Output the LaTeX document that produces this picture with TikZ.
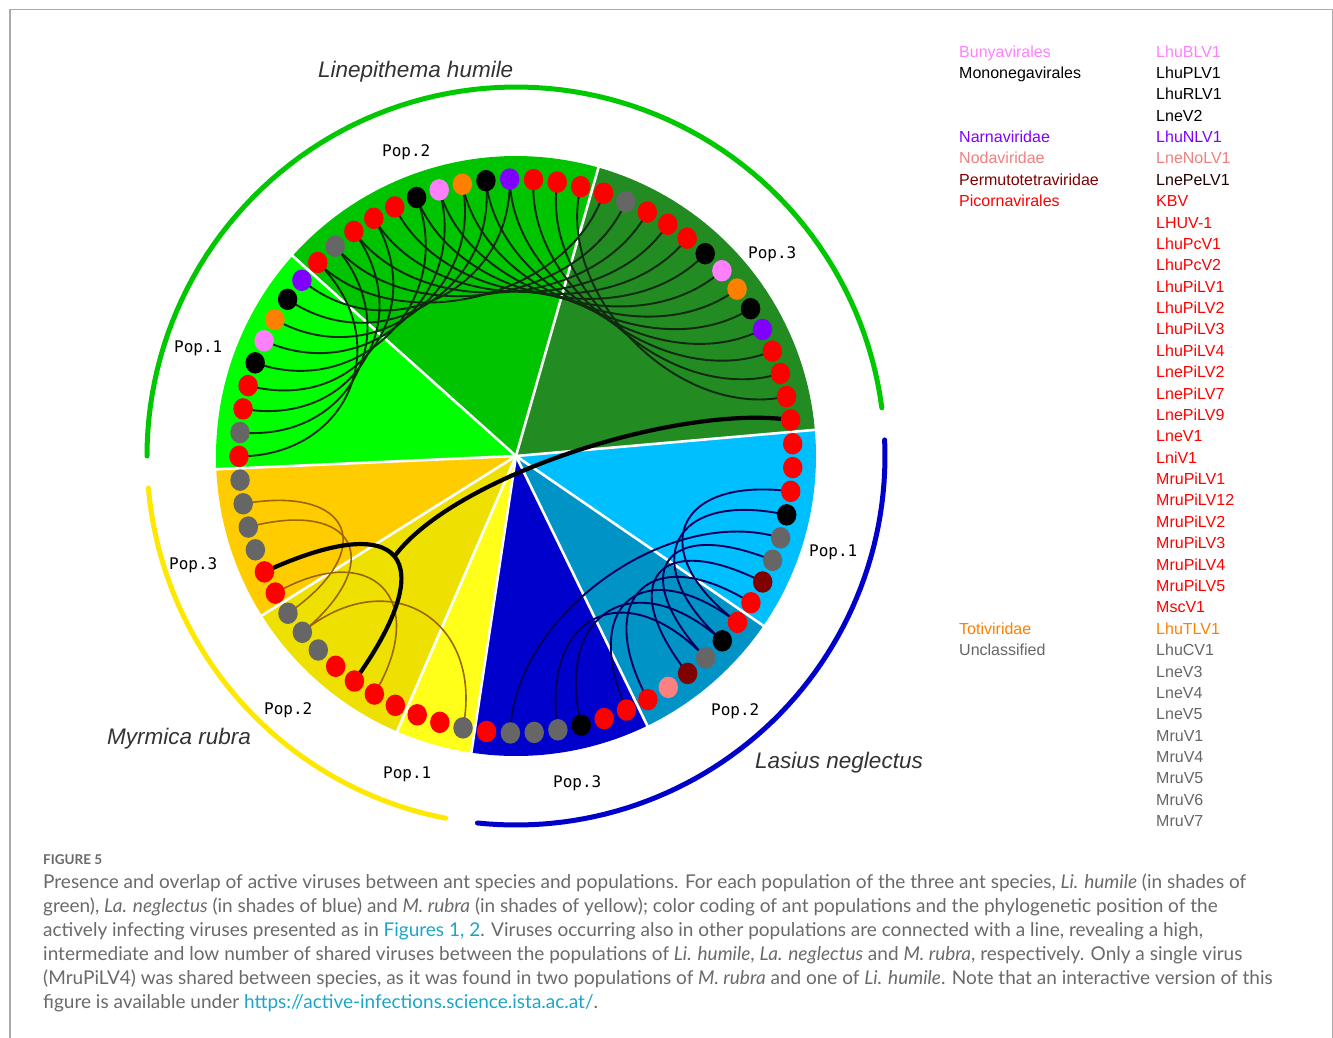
\documentclass[tikz,border=0pt]{standalone}
\usepackage{fontspec}
\setmainfont{Liberation Sans}
\newfontfamily\popfont{DejaVu Sans Mono}
\newfontfamily\capfont{Lato}
\usetikzlibrary{calc,shapes.geometric}
\pgfdeclarelayer{bg}
\pgfdeclarelayer{lk}
\pgfsetlayers{bg,lk,main}
\definecolor{cR}{HTML}{FF0000}
\definecolor{cG}{HTML}{666666}
\definecolor{cK}{HTML}{000000}
\definecolor{cP}{HTML}{FF80FF}
\definecolor{cO}{HTML}{FF8000}
\definecolor{cU}{HTML}{8000FF}
\definecolor{cD}{HTML}{800000}
\definecolor{cS}{HTML}{FF8080}
\definecolor{legS}{HTML}{F08080}
\definecolor{legPe}{HTML}{200000}
\definecolor{wLaA}{HTML}{00BFFF}
\definecolor{wLaB}{HTML}{0093C6}
\definecolor{wLaC}{HTML}{0000CD}
\definecolor{wMA}{HTML}{FFFF1A}
\definecolor{wMB}{HTML}{EEE000}
\definecolor{wMC}{HTML}{FFCC00}
\definecolor{wLiA}{HTML}{00FF00}
\definecolor{wLiB}{HTML}{00C400}
\definecolor{wLiC}{HTML}{228B22}
\definecolor{lkLi}{HTML}{0F2A0F}
\definecolor{lkLa}{HTML}{00005A}
\definecolor{lkM}{HTML}{996600}
\definecolor{arcLi}{HTML}{00C800}
\definecolor{arcLa}{HTML}{0000CD}
\definecolor{arcM}{HTML}{FFE800}
\definecolor{spc}{HTML}{333333}
\definecolor{capc}{HTML}{6A6A6A}
\definecolor{linkc}{HTML}{1BA6C8}
\definecolor{framec}{HTML}{AAAAAA}
\def\slot{4.931507}
\begin{document}
\begin{tikzpicture}[x=1pt,y=-1pt,
  dot/.style={ellipse, inner sep=0pt, minimum width=19.5pt, minimum height=21.5pt, draw=none},
  sepline/.style={draw=white, line width=2.6pt},
  lili/.style={draw=lkLi, line width=1.9pt},
  lila/.style={draw=lkLa, line width=1.9pt},
  lim/.style={draw=lkM, line width=1.6pt},
  shared/.style={draw=black, line width=4.2pt},
  sparc/.style={line width=5pt, line cap=round},
  poplab/.style={font=\popfont\fontsize{16}{16}\selectfont, anchor=base west, inner sep=0pt},
  splab/.style={font=\itshape\fontsize{22.5}{22.5}\selectfont, text=spc, anchor=base west, inner sep=0pt},
  leg/.style={font=\fontsize{16}{16}\selectfont, anchor=base west, inner sep=0pt},
  capl/.style={font=\capfont\fontsize{19}{19}\selectfont, text=capc, anchor=base west, inner sep=0pt}
]
\useasboundingbox (0,0) rectangle (1333,1037);
\coordinate (C) at (516,456);

% background and wedges
\begin{pgfonlayer}{bg}
\fill[white] (0,0) rectangle (1333,1037);
\foreach \a/\b/\col in {0/8/wLaA, 8/14/wLaB, 14/21/wLaC, 21/24/wMA, 24/31/wMB, 31/37/wMC, 37/46/wLiA, 46/59/wLiB, 59/73/wLiC}{
  \pgfmathsetmacro\sa{355+\a*\slot}
  \pgfmathsetmacro\sb{355+\b*\slot}
  \fill[\col] (C) -- plot[domain=\sa:\sb, samples=40] ({516+300*cos(\x)},{456+300*sin(\x)}) -- cycle;
}
\foreach \a in {0,8,14,21,24,31,37,46,59}{
  \pgfmathsetmacro\sa{355+\a*\slot}
  \draw[sepline] (C) -- ($(C)+(\sa:301)$);
}
\end{pgfonlayer}
\draw[draw=framec, line width=1.2pt] (10,1045) -- (10,9.5) -- (1332.4,9.5) -- (1332.4,1045);

% species arcs
\draw[sparc, draw=arcLi] plot[domain=180:352.5, samples=90] ({516+369*cos(\x)},{456+369*sin(\x)});
\draw[sparc, draw=arcLa] plot[domain=357.5:456, samples=60] ({516+369*cos(\x)},{456+369*sin(\x)});
\draw[sparc, draw=arcM] plot[domain=101:175, samples=50] ({516+369*cos(\x)},{456+369*sin(\x)});

% dots
\foreach \c [count=\i from 0] in {R,R,R,K,G,G,D,R, R,K,G,D,S,R, R,R,K,G,G,G,R, G,R,R, R,R,R,R,G,G,G, R,R,G,G,G,G, R,G,R,R,K,P,O,K,U, R,G,R,R,R,K,P,O,K,U,R,R,R, R,G,R,R,R,K,P,O,K,U,R,R,R,R}{
  \pgfmathsetmacro\t{355+(\i+0.5)*\slot}
  \node[dot, fill=c\c] (d\i) at ($(C)+(\t:277)$) {};
}

% links
\begin{pgfonlayer}{lk}
\foreach \a/\b in {37/46, 38/47, 39/48, 40/49, 41/51, 42/52, 43/53, 44/54, 45/55, 46/59, 47/60, 48/61, 49/62, 50/63, 51/64, 52/65, 53/66, 54/67, 55/68, 56/69, 57/70, 58/71}{
  \pgfmathsetmacro\ta{355+(\a+0.5)*\slot}
  \pgfmathsetmacro\tb{355+(\b+0.5)*\slot}
  \draw[lili] (d\a.center) .. controls ($(C)+(\ta:166)$) and ($(C)+(\tb:166)$) .. (d\b.center);
}
\foreach \a/\b in {2/8, 3/9, 4/19, 5/10, 6/11, 7/13, 9/16, 10/17, 8/14}{
  \pgfmathsetmacro\ta{355+(\a+0.5)*\slot}
  \pgfmathsetmacro\tb{355+(\b+0.5)*\slot}
  \draw[lila] (d\a.center) .. controls ($(C)+(\ta:160)$) and ($(C)+(\tb:160)$) .. (d\b.center);
}
\foreach \a/\b in {35/30, 34/29, 31/25, 21/29}{
  \pgfmathsetmacro\ta{355+(\a+0.5)*\slot}
  \pgfmathsetmacro\tb{355+(\b+0.5)*\slot}
  \draw[lim] (d\a.center) .. controls ($(C)+(\ta:166)$) and ($(C)+(\tb:166)$) .. (d\b.center);
}
\pgfmathsetmacro\ta{355+32.5*\slot}
\pgfmathsetmacro\tb{355+26.5*\slot}
\draw[shared] (d32.center) .. controls ($(C)+(\ta:125)$) and ($(C)+(\tb:125)$) .. (d26.center) coordinate[pos=0.5] (J);
\draw[shared] (J) .. controls (455,475) and (680,404) .. (d72.center);
\end{pgfonlayer}

% population labels
\node[poplab] (liP1) at (174,352) {Pop.1};
\node[poplab] (liP2) at (382,156) {Pop.2};
\node[poplab] (liP3) at (748,258) {Pop.3};
\node[poplab] (laP1) at (809,556) {Pop.1};
\node[poplab] (laP2) at (711,715) {Pop.2};
\node[poplab] (laP3) at (553,787) {Pop.3};
\node[poplab] (mP1) at (383,778) {Pop.1};
\node[poplab] (mP2) at (264,714) {Pop.2};
\node[poplab] (mP3) at (169,569) {Pop.3};

% species labels
\node[splab] (spLi) at (318,77) {Linepithema humile};
\node[splab] (spM) at (107,744) {Myrmica rubra};
\node[splab] (spLa) at (755,768) {Lasius neglectus};

% legend
\foreach \n/\txt/\c in {1/Bunyavirales/cP, 2/Mononegavirales/black, 5/Narnaviridae/cU, 6/Nodaviridae/legS, 7/Permutotetraviridae/cD, 8/Picornavirales/cR, 28/Totiviridae/cO, 29/Unclassified/cG}{
  \node[leg, text=\c] (lf\n) at (959,{57+(\n-1)*21.38}) {\txt};
}
\foreach \txt/\c [count=\n] in {LhuBLV1/cP, LhuPLV1/black, LhuRLV1/black, LneV2/black, LhuNLV1/cU, LneNoLV1/legS, LnePeLV1/legPe, KBV/cR, LHUV-1/cR, LhuPcV1/cR, LhuPcV2/cR, LhuPiLV1/cR, LhuPiLV2/cR, LhuPiLV3/cR, LhuPiLV4/cR, LnePiLV2/cR, LnePiLV7/cR, LnePiLV9/cR, LneV1/cR, LniV1/cR, MruPiLV1/cR, MruPiLV12/cR, MruPiLV2/cR, MruPiLV3/cR, MruPiLV4/cR, MruPiLV5/cR, MscV1/cR, LhuTLV1/cO, LhuCV1/cG, LneV3/cG, LneV4/cG, LneV5/cG, MruV1/cG, MruV4/cG, MruV5/cG, MruV6/cG, MruV7/cG}{
  \node[leg, text=\c] (lv\n) at (1156,{57+(\n-1)*21.38}) {\txt};
}

% caption
\node[font=\capfont\bfseries\fontsize{13.5}{13.5}\selectfont, text=capc, anchor=base west, inner sep=0pt] (figlab) at (43,864) {FIGURE 5};
\node[capl] (cap1) at (43,888) {Presence and overlap of active viruses between ant species and populations. For each population of the three ant species, \textit{Li. humile} (in shades of};
\node[capl] (cap2) at (43,912) {green), \textit{La. neglectus} (in shades of blue) and \textit{M. rubra} (in shades of yellow); color coding of ant populations and the phylogenetic position of the};
\node[capl] (cap3) at (43,936) {actively infecting viruses presented as in \textcolor{linkc}{Figures 1, 2}. Viruses occurring also in other populations are connected with a line, revealing a high,};
\node[capl] (cap4) at (43,960) {intermediate and low number of shared viruses between the populations of \textit{Li. humile}, \textit{La. neglectus} and \textit{M. rubra}, respectively. Only a single virus};
\node[capl] (cap5) at (43,984) {(MruPiLV4) was shared between species, as it was found in two populations of \textit{M. rubra} and one of \textit{Li. humile}. Note that an interactive version of this};
\node[capl] (cap6) at (43,1008) {figure is available under \textcolor{linkc}{https://active-infections.science.ista.ac.at/}.};
\end{tikzpicture}
\end{document}
